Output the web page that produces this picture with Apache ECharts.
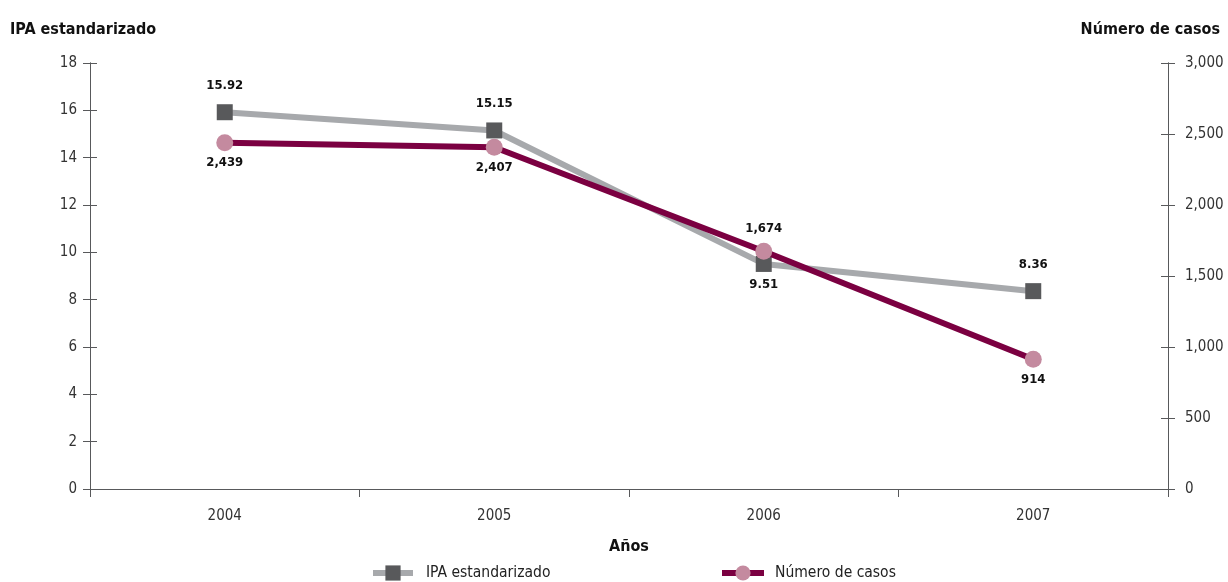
<!DOCTYPE html>
<html>
<head>
<meta charset="utf-8">
<script src="https://cdn.jsdelivr.net/npm/echarts@6/dist/echarts.min.js"></script>
<style>
  html, body { margin: 0; padding: 0; background: #fff; }
  #chart { width: 1228px; height: 582px; }
</style>
</head>
<body>
<div id="chart"></div>
<script>
// Años y valores de las dos series
const years = ['2004', '2005', '2006', '2007'];
const ipa = [15.92, 15.15, 9.51, 8.36];
const casos = [2439, 2407, 1674, 914];

const FONT = '"DejaVu Sans Condensed", "Liberation Sans Narrow", "Noto Sans", sans-serif';
const AXIS = '#58595b';

const fmtMiles = v => String(Math.round(v)).replace(/\B(?=(\d{3})+(?!\d))/g, ',');

const chart = echarts.init(document.getElementById('chart'));

const titleStyle = { fontFamily: FONT, fontWeight: 'bold', fontSize: 16, color: '#111' };

const baseY = {
  type: 'value',
  axisLine: { show: true, lineStyle: { color: AXIS, width: 1 } },
  splitLine: { show: false }
};

chart.setOption({
  animation: false,
  textStyle: { fontFamily: FONT },
  grid: { left: 90, right: 60, top: 63, bottom: 93, containLabel: false },
  legend: [
    {
      data: ['IPA estandarizado'],
      left: 365, top: 560,
      itemWidth: 40, itemHeight: 19, itemGap: 10,
      lineStyle: { width: 6 },
      textStyle: { fontFamily: FONT, fontSize: 15.5, color: '#222', padding: [0, 0, 0, 8] }
    },
    {
      data: ['Número de casos'],
      left: 714, top: 560,
      itemWidth: 42, itemHeight: 19, itemGap: 10,
      lineStyle: { width: 6 },
      textStyle: { fontFamily: FONT, fontSize: 15.5, color: '#222', padding: [0, 0, 0, 6] }
    }
  ],
  xAxis: {
    type: 'category',
    data: years,
    boundaryGap: true,
    name: 'Años',
    nameLocation: 'middle',
    nameGap: 50,
    nameTextStyle: titleStyle,
    axisLine: { lineStyle: { color: AXIS, width: 1 } },
    axisTick: { show: true, length: 8, lineStyle: { color: AXIS } },
    axisLabel: { fontFamily: FONT, fontSize: 15, color: '#333', margin: 20 }
  },
  yAxis: [
    Object.assign({}, baseY, {
      position: 'left',
      min: 0, max: 18, interval: 2,
      name: 'IPA estandarizado',
      nameGap: 25,
      nameTextStyle: Object.assign({}, titleStyle, { align: 'left', padding: [0, 0, 0, -80] }),
      axisTick: { show: true, length: 7, lineStyle: { color: AXIS } },
      axisLabel: { fontFamily: FONT, fontSize: 15, color: '#333', margin: 13 }
    }),
    Object.assign({}, baseY, {
      position: 'right',
      min: 0, max: 3000, interval: 500,
      name: 'Número de casos',
      nameGap: 25,
      nameTextStyle: Object.assign({}, titleStyle, { align: 'right', padding: [0, -52, 0, 0] }),
      axisTick: { show: true, length: 7, lineStyle: { color: AXIS } },
      axisLabel: { fontFamily: FONT, fontSize: 15, color: '#333', margin: 17, formatter: fmtMiles }
    }),
    // inner halves of the tick marks, so they cross the axis lines
    Object.assign({}, baseY, {
      position: 'left', min: 0, max: 18, interval: 2,
      axisTick: { show: true, inside: true, length: 7, lineStyle: { color: AXIS } },
      axisLabel: { show: false }
    }),
    Object.assign({}, baseY, {
      position: 'right', min: 0, max: 3000, interval: 500,
      axisTick: { show: true, inside: true, length: 7, lineStyle: { color: AXIS } },
      axisLabel: { show: false }
    })
  ],
  series: [
    {
      name: 'IPA estandarizado',
      type: 'line',
      yAxisIndex: 0,
      data: ipa,
      symbol: 'rect',
      symbolSize: 16,
      lineStyle: { color: '#a7a9ac', width: 6 },
      itemStyle: { color: '#58595b' },
      label: {
        show: true,
        position: 'top',
        distance: 12,
        fontFamily: FONT, fontWeight: 'bold', fontSize: 13, color: '#111',
        formatter: p => p.value.toFixed(2)
      },
      labelLayout: p => (p.dataIndex === 2 ? { dy: 47 } : {}),
      z: 2
    },
    {
      name: 'Número de casos',
      type: 'line',
      yAxisIndex: 1,
      data: casos,
      symbol: 'circle',
      symbolSize: 17,
      lineStyle: { color: '#7b0041', width: 6 },
      itemStyle: { color: '#c48a9f' },
      label: {
        show: true,
        position: 'bottom',
        distance: 5,
        fontFamily: FONT, fontWeight: 'bold', fontSize: 13, color: '#111',
        formatter: p => fmtMiles(p.value)
      },
      labelLayout: p => (p.dataIndex === 2 ? { dy: -43 } : {}),
      z: 3
    }
  ]
});
</script>
</body>
</html>
